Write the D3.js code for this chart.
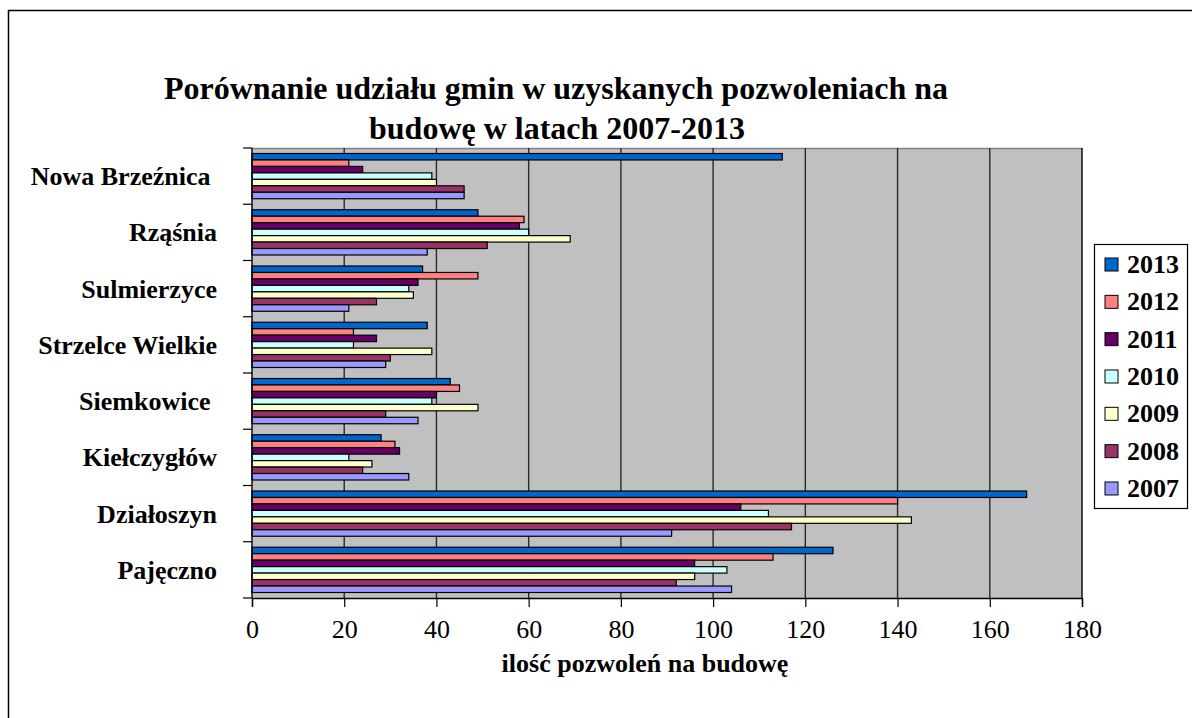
<!DOCTYPE html>
<html>
<head>
<meta charset="utf-8">
<script src="https://cdn.jsdelivr.net/npm/d3@7"></script>
<style>
    body { margin: 0; background: #fff; }
    text { font-family: "Liberation Serif", "Times New Roman", serif; fill: #000; }
</style>
</head>
<body>
<div id="chart"></div>
<script>

// gminy, listed top to bottom as in the chart
let categories = ["Nowa Brzeźnica\u00a0", "Rząśnia", "Sulmierzyce", "Strzelce Wielkie",
    "Siemkowice\u00a0", "Kiełczygłów", "Działoszyn", "Pajęczno"];

// series, listed top to bottom inside each group
let years = ["2013", "2012", "2011", "2010", "2009", "2008", "2007"];

let values2013 = [115, 49, 37, 38, 43, 28, 168, 126];
let values2012 = [21, 59, 49, 22, 45, 31, 140, 113];
let values2011 = [24, 58, 36, 27, 40, 32, 106, 96];
let values2010 = [39, 60, 34, 22, 39, 21, 112, 103];
let values2009 = [40, 69, 35, 39, 49, 26, 143, 96];
let values2008 = [46, 51, 27, 30, 29, 24, 117, 92];
let values2007 = [46, 38, 21, 29, 36, 34, 91, 104];

let xTicks = [0, 20, 40, 60, 80, 100, 120, 140, 160, 180];

let colors = ["#0066CC", "#FF8080", "#660066", "#CCFFFF", "#FFFFCC", "#993366", "#9999FF"];


class GroupedBars {

    constructor(parentElement) {
        this.parentElement = parentElement;
        this.series = [values2013, values2012, values2011, values2010, values2009, values2008, values2007];
        this.initVis();
    }

    initVis() {
        let vis = this;

        vis.margin = {top: 148, right: 110, bottom: 120, left: 252};
        vis.width = 1192 - vis.margin.left - vis.margin.right;
        vis.height = 718 - vis.margin.top - vis.margin.bottom;

        vis.root = d3.select("#" + vis.parentElement).append("svg")
            .attr("width", 1192)
            .attr("height", 718);

        // outer frame
        vis.root.append("rect")
            .attr("x", 8.5)
            .attr("y", 10.5)
            .attr("width", 1300)
            .attr("height", 800)
            .attr("fill", "none")
            .attr("stroke", "#000")
            .attr("stroke-width", 1.5);

        // title
        vis.root.append("text")
            .attr("x", 556)
            .attr("y", 99)
            .attr("text-anchor", "middle")
            .attr("font-size", 32)
            .attr("font-weight", "bold")
            .text("Porównanie udziału gmin w uzyskanych pozwoleniach na");

        vis.root.append("text")
            .attr("x", 557)
            .attr("y", 139)
            .attr("text-anchor", "middle")
            .attr("font-size", 32)
            .attr("font-weight", "bold")
            .text("budowę w latach 2007-2013");

        vis.svg = vis.root.append("g")
            .attr("transform", "translate(" + vis.margin.left + "," + vis.margin.top + ")");

        vis.x = d3.scaleLinear()
            .domain([0, 180])
            .range([0, vis.width]);

        vis.y = d3.scaleBand()
            .domain(categories)
            .range([0, vis.height])
            .padding(0);

        vis.ySeries = d3.scaleBand()
            .domain(years)
            .range([5.5, vis.y.bandwidth() - 5.5])
            .padding(0);

        vis.updateVis();
    }

    updateVis() {
        let vis = this;

        // gray plot area
        vis.svg.append("rect")
            .attr("width", vis.width)
            .attr("height", vis.height)
            .attr("fill", "#C0C0C0");

        vis.svg.append("line")
            .attr("x1", 0)
            .attr("x2", vis.width)
            .attr("y1", 0.5)
            .attr("y2", 0.5)
            .attr("stroke", "#808080")
            .attr("stroke-width", 1.5);

        // vertical gridlines
        vis.svg.selectAll(".grid")
            .data(xTicks.slice(1))
            .enter()
            .append("line")
            .attr("class", "grid")
            .attr("x1", d => vis.x(d))
            .attr("x2", d => vis.x(d))
            .attr("y1", 0)
            .attr("y2", vis.height)
            .attr("stroke", d => d === 180 ? "#000" : "#2a2a2a")
            .attr("stroke-width", 1.4);

        // bars, one group per series
        vis.series.forEach(function (vals, s) {
            vis.svg.selectAll(".bar" + s)
                .data(vals)
                .enter()
                .append("rect")
                .attr("class", "bar" + s)
                .attr("x", 0)
                .attr("y", (d, i) => vis.y(categories[i]) + vis.ySeries(years[s]))
                .attr("width", d => vis.x(d))
                .attr("height", vis.ySeries.bandwidth())
                .attr("fill", colors[s])
                .attr("stroke", "#000")
                .attr("stroke-width", 1.2);
        });

        // x axis
        let xAxis = vis.svg.append("g")
            .attr("transform", "translate(0," + vis.height + ")")
            .call(d3.axisBottom(vis.x).tickValues(xTicks).tickSize(9).tickPadding(13));

        xAxis.select(".domain").attr("stroke", "#000").attr("stroke-width", 1.4);
        xAxis.selectAll(".tick line").attr("stroke", "#000").attr("stroke-width", 1.2);
        xAxis.selectAll(".tick text")
            .attr("font-family", "Liberation Serif, Times New Roman, serif")
            .attr("font-size", 26)
            .attr("fill", "#000");

        // y axis with ticks on the category boundaries
        vis.svg.append("line")
            .attr("x1", 0)
            .attr("x2", 0)
            .attr("y1", 0)
            .attr("y2", vis.height)
            .attr("stroke", "#000")
            .attr("stroke-width", 1.4);

        let bounds = categories.map(c => vis.y(c)).concat([vis.height]);
        vis.svg.selectAll(".ytick")
            .data(bounds)
            .enter()
            .append("line")
            .attr("class", "ytick")
            .attr("x1", -9)
            .attr("x2", 0)
            .attr("y1", d => d)
            .attr("y2", d => d)
            .attr("stroke", "#000")
            .attr("stroke-width", 1.2);

        vis.svg.selectAll(".ylabel")
            .data(categories)
            .enter()
            .append("text")
            .attr("class", "ylabel")
            .attr("x", -35)
            .attr("y", d => vis.y(d) + vis.y.bandwidth() / 2)
            .attr("dy", "0.35em")
            .attr("text-anchor", "end")
            .attr("font-size", 26)
            .attr("font-weight", "bold")
            .text(d => d);

        // x axis title
        vis.svg.append("text")
            .attr("x", 393)
            .attr("y", vis.height + 74)
            .attr("text-anchor", "middle")
            .attr("font-size", 26)
            .attr("font-weight", "bold")
            .text("ilość pozwoleń na budowę");

        // legend
        let legend = vis.root.append("g")
            .attr("transform", "translate(1094,244)");

        legend.append("rect")
            .attr("x", 0.5)
            .attr("y", 0.5)
            .attr("width", 93)
            .attr("height", 264)
            .attr("fill", "#fff")
            .attr("stroke", "#000")
            .attr("stroke-width", 1.2);

        let items = legend.selectAll(".item")
            .data(years)
            .enter()
            .append("g")
            .attr("class", "item")
            .attr("transform", (d, i) => "translate(0," + (20 + i * 37.33) + ")");

        items.append("rect")
            .attr("x", 11)
            .attr("y", -6)
            .attr("width", 13)
            .attr("height", 13)
            .attr("fill", (d, i) => colors[i])
            .attr("stroke", "#000")
            .attr("stroke-width", 1);

        items.append("text")
            .attr("x", 33)
            .attr("y", 0)
            .attr("dy", "0.35em")
            .attr("font-size", 26)
            .attr("font-weight", "bold")
            .text(d => d);
    }
}

new GroupedBars("chart");

</script>
</body>
</html>
